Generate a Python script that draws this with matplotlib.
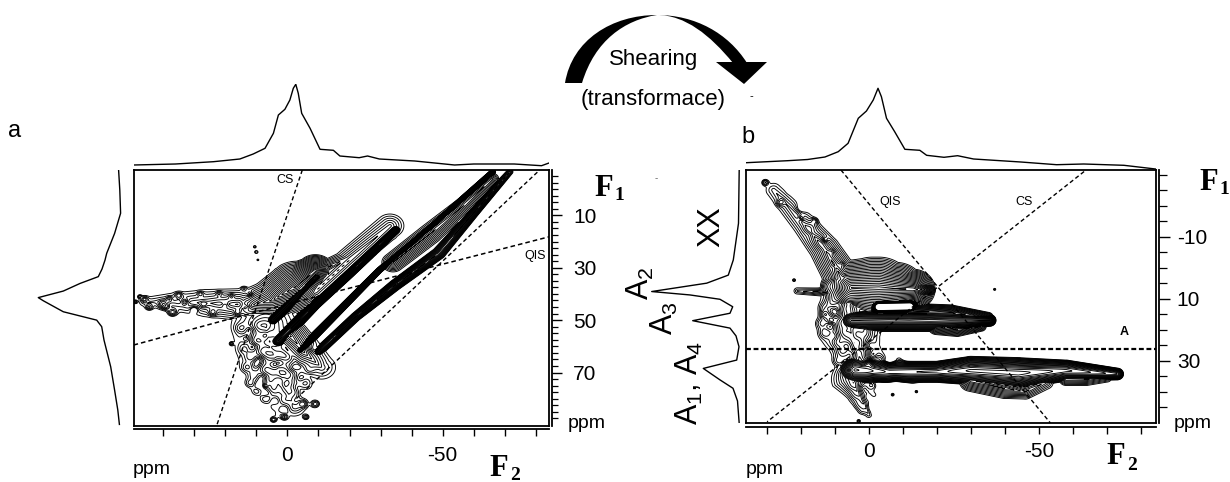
import numpy as np
import matplotlib
matplotlib.use('Agg')
import matplotlib.pyplot as plt
from matplotlib.path import Path
from matplotlib.patches import PathPatch, Polygon

plt.rcParams['font.family'] = ['Liberation Sans', 'DejaVu Sans']
plt.rcParams['mathtext.fontset'] = 'custom'
plt.rcParams['mathtext.rm'] = 'Liberation Sans'
plt.rcParams['mathtext.default'] = 'rm'

W, H = 1230, 482

# -- projections
a_top_f2 = [49.5, 36, 23.8, 15.3, 11, 7.2, 4.5, 2.9, 0.8, -0.8, -1.9, -2.7, -3.5, -4.6, -7.3, -10.5, -14.8, -16.9, -23.1, -25.8, -29.6, -41, -53.8, -60, -73, -81.8, -84.2]
a_top_int = [5, 6, 8.3, 11, 16, 21.7, 36.7, 55, 60.7, 70, 81.7, 85.7, 76.7, 56.7, 41.7, 20.7, 19.7, 14, 12.3, 14, 11, 9, 5, 6, 6, 4.3, 7]
a_left_f1 = [-7.3, 0.3, 9.2, 16.9, 24.5, 27.1, 30.5, 33.4, 36, 38.9, 41.4, 42.6, 46.8, 50, 52.5, 57.6, 67.8, 76.7, 84.3, 89.8]
a_left_int = [3.4, 2.2, 1.4, 7.4, 15.3, 17, 20, 23.7, 42, 58.7, 83.7, 78.7, 58.7, 25.3, 20.3, 18, 11.3, 7.4, 4.2, 2.6]
b_top_f2 = [36, 23.9, 18, 12.9, 9, 6.1, 3.1, 0.7, -1.3, -2.7, -3.7, -5.2, -7.6, -10.6, -15, -17, -22.1, -26.1, -30.8, -44.7, -55.2, -63.2, -75, -84.3]
b_top_int = [7.3, 9.3, 10.5, 13, 18.3, 26.7, 51.7, 59, 70, 81.7, 73.3, 51.7, 38.3, 20.7, 19.7, 14.7, 12.7, 14.3, 11, 8, 5.3, 6, 4.7, 1]
b_left_f1 = [-31.5, -14.3, -2.5, 2.4, 5, 7.7, 8.8, 10.2, 12.6, 14.7, 17.1, 19.5, 22, 25.5, 29.8, 32.5, 36.2, 38.9, 43, 50.2]
b_left_int = [0.8, 1.5, 6.7, 11.7, 33.3, 88.3, 50, 20, 7.3, 10, 47.3, 10, 4, 1, 3.3, 36.7, 20, 7, 2.5, 0.8]

# -- ridges of panel a: f2, f1, height, half extent (at the lowest contour) at each knot, profile power
a_ridges = [
    # short ridge + its fan
    ([4.7, -2, -9.3], [50, 42, 33.4], [44, 46, 43], [2.0, 2.2, 2.0], 1.3),
    ([12, 5, -3, -9], [44.5, 42.5, 37, 31], [6, 14, 38, 34], [6.5, 8, 9.5, 6], 1.0),
    ([16, 26, 36, 46], [44, 43.5, 43, 43], [5, 3, 2, 1.4], [6, 5.2, 3.5, 1.6], 1.0),
    # second ridge
    ([3, -9, -20, -34.7], [58, 44, 32, 15.6], [30, 46, 46, 30], [2.4, 1.7, 1.7, 1.6], 1.3),
    ([-9, -20, -33], [39, 27, 14], [4, 4, 3], [4.5, 4.5, 4.5], 1.0),
    ([-11, -18, -26, -33], [31, 27, 22, 17], [5, 3, 2.5, 2], [3, 3, 3, 2.5], 1.0),
    # long ridge
    ([-4.2, -29.6, -46.1, -66.1], [61.4, 30.9, 14.4, -6.6], [30, 45, 46, 44], [1.4, 1.0, 0.9, 0.9], 1.3),
    ([-10, -22, -34.7, -48.7, -60, -71.6], [62, 48.7, 36.6, 24.5, 9, -6.6], [10, 12, 20, 10, 12, 3], [1.6, 1.6, 2, 2.2, 1.6, 1.0], 1.2),
    ([-34, -46, -57, -66], [28, 17, 6, -4], [5, 5, 4, 3], [3.6, 3.8, 3, 2], 1.0),
    # low lump under the ridges
    ([7, 5, 1, -2], [52, 62, 74, 83], [5, 3.6, 2.6, 1.8], [11, 11, 8, 3.6], 1.0),
    ([-1, -6, -11], [56, 63, 68], [9, 5, 2.2], [6, 6, 4.5], 1.0),
]
# small lumps and holes that roughen the low contours: f2, f1, height, width
a_lump_f2 = [40, 37, 33, 30, 27, 24, 20, 16, 13, 18, 22, 28, 35, 46, 44.5, 39, 38, 10.5, 10, 9.5, -5, -9, 4.5, 1, -6, 7, 18, 12, 14, 47.5, 49]
a_lump_f1 = [44, 47, 43, 46, 44, 47, 44, 47, 45, 41, 40, 40, 40.5, 42, 45, 45, 42, 22, 24, 27, 82, 82, 88, 87, 87, 75, 59, 40, 38, 41, 43]
a_lump_amp = [1.8, 1.6, -1.3, -1.2, 1.3, 1.5, -1.4, 1.6, -1.5, 1.2, 1.2, 1.2, 1.4, 1.3, 1.3, 1.2, 1.2, 1.4, 1.4, 1.2, 1.5, 1.5, 1.6, 1.4, 1.3, 1.2, 1.2, -1, 1, 1.3, 1.3]
a_lump_w = [0.9, 0.9, 0.8, 0.8, 0.7, 0.8, 0.8, 0.7, 0.8, 0.6, 0.6, 0.6, 0.7, 0.7, 0.7, 0.7, 0.6, 0.5, 0.6, 0.4, 0.9, 0.9, 0.7, 0.7, 0.6, 0.5, 0.4, 0.6, 0.6, 0.4, 0.4]
a_rough_f2 = [15, 12, 9, 6, 13, 10, 7, 4, 14, 11, 8, 5, 2, 12, 9, 6, 3, 0, 13, 10, 7, 4, 1, -2, 11, 8, 5, 2, -1, -4, -7, 12, 9, 6, 3, 0, -3, -6, 10, 7, 4, 1, -2, -5, 7, 4, 1, -2, 4, 1, -3, 3, -8, -5]
a_rough_f1 = [53, 54, 52, 55, 57, 58, 56, 59, 61, 60, 62, 60, 63, 64, 65, 63, 66, 64, 68, 67, 69, 67, 70, 68, 71, 72, 70, 73, 71, 72, 69, 74, 75, 73, 76, 74, 76, 74, 77, 78, 76, 79, 77, 78, 80, 81, 80, 81, 83, 84, 83, 86, 61, 62]
a_rough_amp = [0.8, -0.9, 0.9, -0.9, -0.8, 0.9, -1.0, 0.9, 0.6, -0.9, 0.9, -0.9, 0.9, 0.6, -0.9, 0.9, -0.8, 0.9, 0.8, -0.6, 0.8, -0.9, 0.8, -0.6, 0.6, -0.6, 0.6, -0.6, 0.6, -0.45, 0.6, 0.8, -0.6, 0.6, -0.6, 0.6, -0.45, 0.45, 0.6, -0.45, 0.6, -0.45, 0.45, -0.4, 0.6, -0.45, 0.45, -0.3, 0.45, -0.4, 0.4, 0.45, -0.8, 0.8]

# -- ridges of panel b
b_ridges = [
    # A2 with the dense fan above it
    ([5, -1, -3, -8, -13, -17], [6.5, 6.6, 6.6, 6.8, 7, 7.2], [44, 46, 47, 43, 42, 22], [9, 10, 10, 8.5, 6.5, 2.6], 1.1),
    ([7, 13, 19, 28], [5, -6, -14, -25], [11, 5.5, 3, 1.7], [5.5, 4.5, 3.5, 2.2], 1.0),
    # A3 and the blob above it
    ([-3, -12], [12.7, 12.5], [400, 400], [3, 3], 1.0),
    ([-12, -24, -35], [14, 14.5, 16], [18, 14, 6], [2.5, 2.5, 1.6], 1.2),
    ([5, -1, -6, -12, -18, -24, -30, -35.5], [17, 17, 17, 17, 17, 17, 17, 17], [43, 44, 45, 44, 46, 44, 45, 44], [3.6, 3.6, 3.6, 3.6, 3.6, 3.4, 2.8, 1.9], 1.5),
    ([-20, -26, -33], [19, 20, 19], [8, 6, 4], [2.6, 2.2, 1.5], 1.0),
    # A1, A4
    ([4, -6, -20, -30, -44, -58, -73], [33, 33.6, 33.6, 33.2, 34, 33.2, 34.3], [44, 26, 30, 44, 46, 30, 16], [4.6, 3.4, 3.4, 4.6, 5, 3.4, 1.9], 1.8),
    ([-30, -40, -46, -52], [36.5, 39, 40, 37], [7, 6, 3.5, 2.5], [3.4, 3.2, 2.4, 2.2], 1.0),
    ([-58, -64, -70], [36, 36, 35.5], [4, 3.5, 2.5], [2, 2, 1.4], 1.0),
    # the low stem around 0 ppm
    ([6, 5.5, 3.5, 2], [9, 20, 27, 31], [6, 7, 5, 6], [8, 9, 7, 7], 1.0),
    ([5, 3, 1, 0], [36, 41, 45, 47.5], [5, 2.6, 2, 1.4], [6, 3.2, 1.9, 0.8], 1.0),
    ([21, 11], [7.5, 8], [1.6, 3], [1, 1.4], 1.0),
]
b_lump_f2 = [30.5, 26, 23, 20, 16, 13, 11, 10, 9.5, 22, -7, -14, -37, 8, 7, 0, 3, 13, 11]
b_lump_f1 = [-27.5, -21, -25, -16, -15, -9, -5, 0, 4, 4, 41, 40, 7, -1, 3, 31, 49.5, 15, 17]
b_lump_amp = [1.5, 1.4, -1, -1.2, 1.3, -1.4, 1.3, -1.5, 1.5, 1.3, 1.3, 1.4, 1.4, 1.3, 1.3, 12, 1.4, 1.4, 1.3]
b_lump_w = [0.6, 0.7, 0.6, 0.6, 0.6, 0.6, 0.6, 0.6, 0.7, 0.4, 0.4, 0.4, 0.4, 0.5, 0.4, 0.7, 0.4, 0.8, 0.7]
b_rough_f2 = [12, 9, 6, 11, 8, 5, 13, 10, 7, 4, 12, 9, 6, 3, 14, 11, 8, 5, 2, 13, 10, 7, 4, 1, 9, 6, 3, 0, 8, 5, 2, -1, 9, 6, 3, 0, -3, -6, -9, 7, 4, 1, -2, -5, -8, -12, 5, 2, -1, -4, -8, -13, 4, 1, -2, 3, 0, 2, 17, 20, 14, 17]
b_rough_f1 = [6, 8, 10, 11, 12, 10, 13, 14, 13, 12, 16, 15, 17, 15, 18, 19, 18, 20, 19, 21, 22, 21, 22, 21, 24, 25, 24, 25, 27, 28, 27, 28, 30, 31, 30, 29, 30, 31, 30, 34, 35, 34, 36, 35, 36, 35, 38, 39, 38, 39, 39, 38, 41, 42, 41, 44, 45, 46, -13, -19, -8, -11]
b_rough_amp = [0.9, -0.9, 1, 0.9, -1, 1.1, 0.8, -0.9, 1, -1, 0.9, -0.9, 1, -0.9, 0.8, -0.9, 0.9, -1, 0.9, 0.8, -0.8, 0.9, -1, 0.9, 0.9, -1, 0.9, -0.9, 0.9, -0.9, 0.9, -0.9, 0.8, -0.9, 0.9, -0.6, 0.8, -0.9, 0.9, 0.9, -0.9, 0.9, -0.9, 0.8, -0.8, 0.6, 0.8, -0.8, 0.8, -0.8, 0.6, 0.45, 0.6, -0.45, 0.45, 0.45, -0.45, 0.45, 0.8, -0.6, 0.8, -0.6]

# -- guide lines
a_cs = ([-4.8, 22.8], [-7.3, 90.4])
a_qis = ([49.5, 20, -84.2], [59.5, 50, 18.2])
a_edge = ([-2.9, -81.2], [79.9, -7.3])
b_qis = ([8.2, -53.4], [-31.5, 50.1])
b_cs = ([-63.3, 29.9], [-31, 49.7])
b_a = ([36, -84.3], [26.1, 26.1])

a_xlim, a_ylim = (49.5, -84.2), (90.4, -7.3)
b_xlim, b_ylim = (36, -84.3), (50.1, -31.5)


def intensity(ridges, lumps, xlim, ylim):
    xs = np.linspace(xlim[0], xlim[1], 900)
    ys = np.linspace(ylim[1], ylim[0], 660)
    X, Y = np.meshgrid(xs, ys)
    Z = np.zeros_like(X)
    for f2, f1, amp, ext, power in ridges:
        for i in range(len(f2) - 1):
            dx, dy = f2[i + 1] - f2[i], f1[i + 1] - f1[i]
            t = np.clip(((X - f2[i]) * dx + (Y - f1[i]) * dy) / (dx * dx + dy * dy), 0, 1)
            d = np.hypot(X - f2[i] - t * dx, Y - f1[i] - t * dy)
            h = amp[i] + t * (amp[i + 1] - amp[i])
            e = ext[i] + t * (ext[i + 1] - ext[i])
            # falls to 1 (lowest contour) at distance e
            Z = np.maximum(Z, h ** (1 - (d / e) ** power))
    for x0, y0, h, w in lumps:
        Z += h * np.exp(-((X - x0) ** 2 + (Y - y0) ** 2) / (2 * w * w))
    return X, Y, Z


def px_axes(fig, left, top, right, bottom):
    return fig.add_axes([left / W, 1 - bottom / H, (right - left) / W, (bottom - top) / H])


fig = plt.figure(figsize=(W / 100, H / 100), dpi=100)
levels = np.geomspace(1, 42, 20)

# -- panel a
ax = px_axes(fig, 133.6, 170, 549, 426)
a_lumps = list(zip(a_lump_f2, a_lump_f1, a_lump_amp, a_lump_w))
a_lumps += [(x, y, h, 1.2) for x, y, h in zip(a_rough_f2, a_rough_f1, a_rough_amp)]
X, Y, Z = intensity(a_ridges, a_lumps, a_xlim, a_ylim)
ax.contour(X, Y, Z, levels=levels, colors='k', linewidths=0.65)
ax.plot(*a_cs, 'k', ls=(0, (3, 2)), lw=1)
ax.plot(*a_qis, 'k', ls=(0, (3, 2)), lw=1.1)
ax.plot(*a_edge, 'k', ls=(0, (3, 2)), lw=1)
ax.set_xlim(a_xlim)
ax.set_ylim(a_ylim)
ax.set_xticks([])
ax.set_yticks([])
for s in ax.spines.values():
    s.set_linewidth(1.3)

sx = ax.secondary_xaxis(-0.012)
sx.set_xticks([0, -50], ['0', '-50'], fontsize=15)
sx.set_xticks(np.arange(40, -90, -10), minor=True)
sx.tick_params(axis='x', which='major', length=5, width=1, pad=7)
sx.tick_params(axis='x', which='minor', length=5, width=1)
sx.spines['bottom'].set_linewidth(1.3)
sy = ax.secondary_yaxis(1.008)
sy.set_yticks([10, 30, 50, 70], ['10', '30', '50', '70'], fontsize=15)
sy.set_yticks(np.arange(-5, 90, 2.5), minor=True)
sy.tick_params(axis='y', which='major', length=7, width=1, pad=8)
sy.tick_params(axis='y', which='minor', length=4.5, width=0.9)
sy.spines['right'].set_linewidth(1.3)

top = px_axes(fig, 133.6, 84, 549, 170)
top.plot(a_top_f2, a_top_int, 'k', lw=1)
top.set_xlim(a_xlim)
top.set_ylim(0, 86)
top.axis('off')

left = px_axes(fig, 35, 170, 122, 426)
left.plot(a_left_int, a_left_f1, 'k', lw=1)
left.set_xlim(87, 0)
left.set_ylim(a_ylim)
left.axis('off')

# -- panel b
bx = px_axes(fig, 746.4, 170, 1155.5, 423)
b_lumps = list(zip(b_lump_f2, b_lump_f1, b_lump_amp, b_lump_w))
b_lumps += [(x, y, h, 1.1) for x, y, h in zip(b_rough_f2, b_rough_f1, b_rough_amp)]
X, Y, Z = intensity(b_ridges, b_lumps, b_xlim, b_ylim)
bx.contour(X, Y, Z, levels=levels, colors='k', linewidths=0.65)
bx.plot(*b_qis, 'k', ls=(0, (3, 2)), lw=1)
bx.plot(*b_cs, 'k', ls=(0, (3, 2)), lw=1)
bx.plot(*b_a, 'k', ls=(0, (2.2, 1.2)), lw=1.6)
bx.set_xlim(b_xlim)
bx.set_ylim(b_ylim)
bx.set_xticks([])
bx.set_yticks([])
for s in bx.spines.values():
    s.set_linewidth(1.3)

sx = bx.secondary_xaxis(-0.014)
sx.set_xticks([0, -50], ['0', '-50'], fontsize=15)
sx.set_xticks(np.arange(30, -90, -10), minor=True)
sx.tick_params(axis='x', which='major', length=5, width=1, pad=6)
sx.tick_params(axis='x', which='minor', length=5, width=1)
sx.spines['bottom'].set_linewidth(1.3)
sy = bx.secondary_yaxis(1.008)
sy.set_yticks([-10, 10, 30], ['-10', '10', '30'], fontsize=15)
sy.set_yticks(np.arange(-30, 50, 5), minor=True)
sy.tick_params(axis='y', which='major', length=8, width=1, pad=5)
sy.tick_params(axis='y', which='minor', length=5.5, width=0.9)
sy.spines['right'].set_linewidth(1.3)

top = px_axes(fig, 746.4, 84, 1155.5, 170)
top.plot(b_top_f2, b_top_int, 'k', lw=1)
top.set_xlim(b_xlim)
top.set_ylim(0, 86)
top.axis('off')

left = px_axes(fig, 640, 170, 740, 423)
left.plot(b_left_int, b_left_f1, 'k', lw=1)
left.set_xlim(100, 0)
left.set_ylim(b_ylim)
left.axis('off')

# -- overlay in pixel coordinates for the arrow and the free labels
ov = fig.add_axes([0, 0, 1, 1], zorder=5)
ov.set_xlim(0, W)
ov.set_ylim(H, 0)
ov.axis('off')
arc = [(565, 83), (572, 40), (612, 15), (657, 15), (695, 15), (728, 33), (747, 63),
       (733, 63), (710, 35), (685, 15), (657, 15), (625, 20), (595, 40), (582, 83), (565, 83)]
codes = [Path.MOVETO] + [Path.CURVE4] * 6 + [Path.LINETO] + [Path.CURVE4] * 6 + [Path.CLOSEPOLY]
ov.add_patch(PathPatch(Path(arc, codes), fc='k', ec='none'))
ov.add_patch(Polygon([(716, 62), (767, 62), (744, 84)], fc='k', ec='none'))


def lab(x, y, s, size=13, **kw):
    kw.setdefault('ha', 'center')
    kw.setdefault('va', 'center')
    ov.text(x, y, s, fontsize=size, **kw)


lab(654, 60, 'Shearing', 16)
lab(653, 100, '(transformace)', 16)
lab(751, 96, '-', 8)
lab(656, 178, '-', 7, color='0.4')
lab(15, 131, 'a', 17)
lab(748, 137, 'b', 17)
lab(152, 470, 'ppm', 14)
lab(587, 423, 'ppm', 14)
lab(765, 470, 'ppm', 14)
lab(1193, 423, 'ppm', 14)
lab(285, 180, 'CS', 9)
lab(535, 256, 'QIS', 9)
lab(890, 202, 'QIS', 9)
lab(1024, 202, 'CS', 9)
lab(1124, 332, 'A', 9, fontweight='bold')
for x, y, sub_x, sub_y, sub in [(604, 189, 619, 196, '1'), (1209, 182, 1224, 190, '1'), (499, 468, 515, 475, '2'), (1116, 457, 1132.5, 465, '2')]:
    lab(x, y, 'F', 22, family='Liberation Serif', fontweight='bold')
    lab(sub_x, sub_y, sub, 14, family='Liberation Serif', fontweight='bold')
lab(711, 227, 'XX', 22, rotation=90)
lab(640, 283, 'A$_{2}$', 22, rotation=90)
lab(664, 318, 'A$_{3}$', 22, rotation=90)
lab(689, 383, 'A$_{1}$, A$_{4}$', 22, rotation=90)

fig.savefig('out.png', dpi=100)
